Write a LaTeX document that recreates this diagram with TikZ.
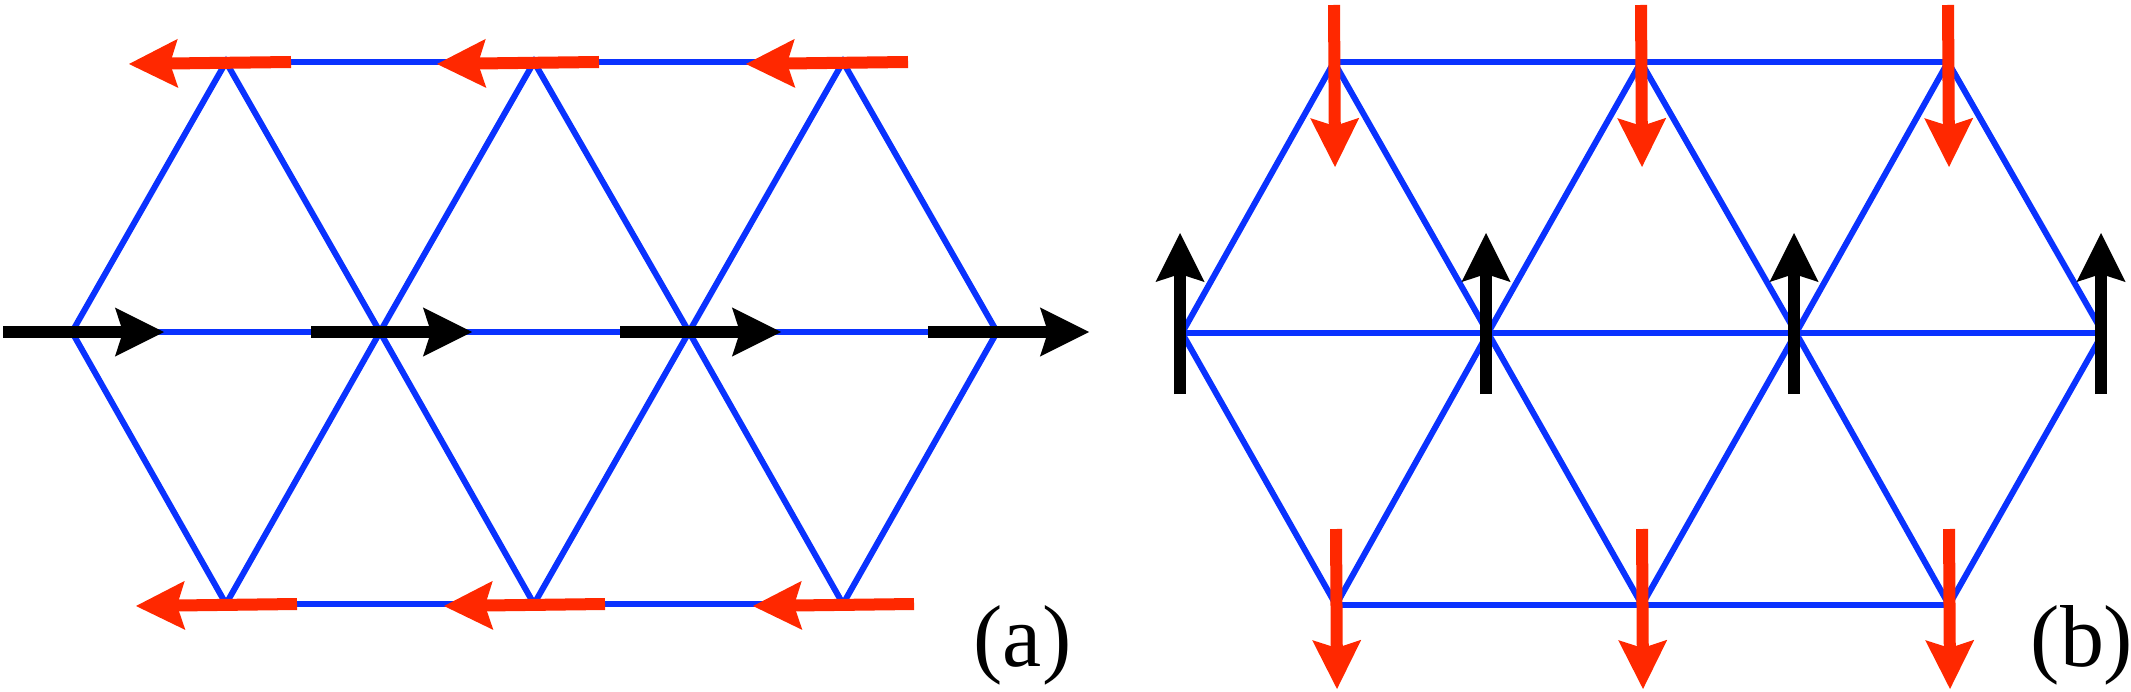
\documentclass[tikz,border=0pt]{standalone}
\usepackage{fontspec}
\setmainfont{Liberation Serif}
\usetikzlibrary{arrows.meta,calc}
\definecolor{latblue}{RGB}{10,50,255}
\definecolor{spinred}{RGB}{255,40,0}
\tikzset{
  lattice/.style={draw=latblue, line width=0.06cm},
  spin/.style={line width=0.12cm, -{Stealth[length=0.49cm,width=0.49cm,inset=0.08cm,line width=0pt]}},
  redspin/.style={spin, color=spinred},
  blackspin/.style={spin, color=black},
  panellabel/.style={inner sep=0pt, anchor=base west, font=\fontsize{25pt}{30pt}\selectfont}
}
\begin{document}
\begin{tikzpicture}[x=0.01cm,y=-0.01cm]
\useasboundingbox (0,0) rectangle (2131,691);
% ---------- panel (a) ----------
\foreach \i/\x in {1/72,2/380,3/689,4/997} \coordinate (aM\i) at (\x,332);
\foreach \i/\x in {1/226,2/534,3/843} {\coordinate (aT\i) at (\x,62); \coordinate (aB\i) at (\x,604);}
\draw[lattice] (aT1) -- (aT3);
\draw[lattice] (aM1) -- (aM4);
\draw[lattice] (aB1) -- (aB3);
\draw[lattice] (aM1) -- (aT1) -- (aM2) -- (aT2) -- (aM3) -- (aT3) -- (aM4);
\draw[lattice] (aM1) -- (aB1) -- (aM2) -- (aB2) -- (aM3) -- (aB3) -- (aM4);
\foreach \i in {1,2,3} \draw[redspin] ($(aT\i)+(65,0)$) -- ($(aT\i)+(-97,2)$);
\foreach \i in {1,...,4} \draw[blackspin] ($(aM\i)+(-69,0)$) -- ($(aM\i)+(92,0)$);
\foreach \i in {1,2,3} \draw[redspin] ($(aB\i)+(71,0)$) -- ($(aB\i)+(-90,2)$);
\node[panellabel] (la) at (973,666) {(a)};
% ---------- panel (b) ----------
\foreach \i/\x in {1/1182,2/1488,3/1796,4/2103} \coordinate (bM\i) at (\x,333);
\foreach \i/\x in {1/1334,2/1641,3/1948} \coordinate (bT\i) at (\x,62);
\foreach \i/\x in {1/1336,2/1642,3/1949} \coordinate (bB\i) at (\x,605);
\draw[lattice] (bT1) -- (bT3);
\draw[lattice] (bM1) -- (bM4);
\draw[lattice] (bB1) -- (bB3);
\draw[lattice] (bM1) -- (bT1) -- (bM2) -- (bT2) -- (bM3) -- (bT3) -- (bM4);
\draw[lattice] (bM1) -- (bB1) -- (bM2) -- (bB2) -- (bM3) -- (bB3) -- (bM4);
\foreach \i in {1,2,3} \draw[redspin] ($(bT\i)+(0,-57)$) -- ($(bT\i)+(1,105)$);
\foreach \i in {1,...,4} \draw[blackspin] ($(bM\i)+(-2,61)$) -- ($(bM\i)+(-2,-100)$);
\foreach \i in {1,2,3} \draw[redspin] ($(bB\i)+(0,-76)$) -- ($(bB\i)+(1,84)$);
\node[panellabel] (lb) at (2030,666) {(b)};
\end{tikzpicture}
\end{document}
